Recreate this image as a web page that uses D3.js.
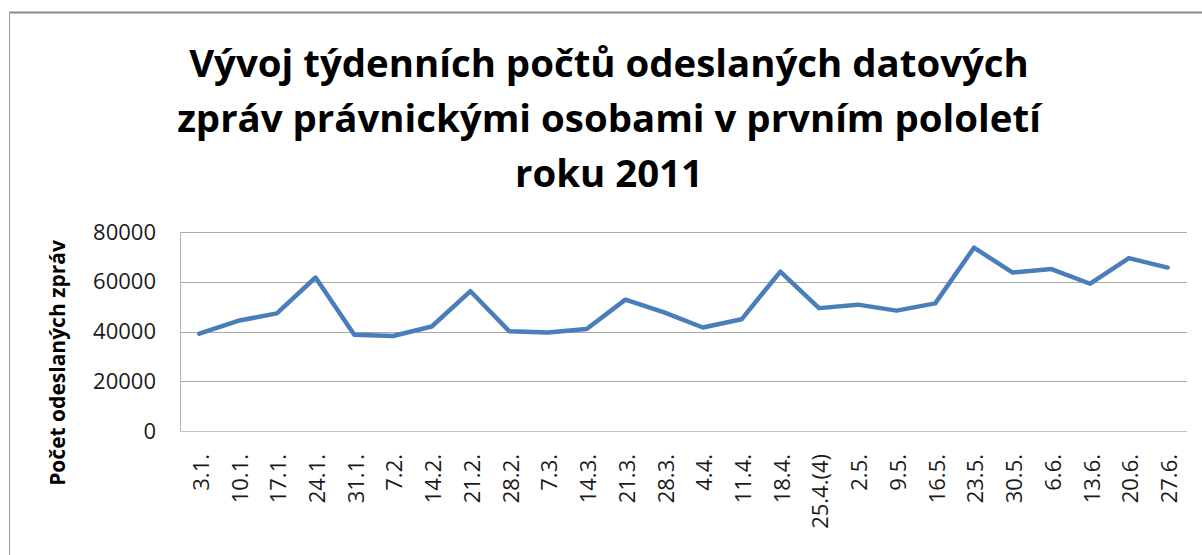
<!DOCTYPE html>
<html>
<head>
<meta charset="utf-8">
<script src="https://cdn.jsdelivr.net/npm/d3@7"></script>
<style>
  body { margin: 0; background: #fff; }
  svg { display: block; }
</style>
</head>
<body>
<div id="chart"></div>
<script>
WIDTH = 1202;
HEIGHT = 555;

// data
var weeks = ["3.1.", "10.1.", "17.1.", "24.1.", "31.1.", "7.2.", "14.2.", "21.2.", "28.2.",
  "7.3.", "14.3.", "21.3.", "28.3.", "4.4.", "11.4.", "18.4.", "25.4.(4)", "2.5.", "9.5.",
  "16.5.", "23.5.", "30.5.", "6.6.", "13.6.", "20.6.", "27.6."];
var messages = [39100, 44300, 47300, 61700, 38700, 38200, 42000, 56200, 40100,
  39600, 41000, 52800, 47700, 41600, 44900, 64100, 49400, 50800, 48400,
  51300, 73700, 63700, 65100, 59200, 69500, 65700];
var yTicks = [0, 20000, 40000, 60000, 80000];
var titleLines = ["Vývoj týdenních počtů odeslaných datových",
  "zpráv právnickými osobami v prvním pololetí", "roku 2011"];
var yTitle = "Počet odeslaných zpráv";

var FONT = "'Open Sans', sans-serif";
var margin = { top: 232, right: 15, bottom: 124, left: 180 };
var innerWidth = WIDTH - margin.left - margin.right;
var innerHeight = HEIGHT - margin.top - margin.bottom;

var svg = d3.select("#chart").append("svg")
  .attr("width", WIDTH)
  .attr("height", HEIGHT);

// outer chart border (only top + left show)
svg.append("line")
  .attr("x1", 9).attr("x2", WIDTH).attr("y1", 12.5).attr("y2", 12.5)
  .attr("stroke", "#8a8a8a").attr("stroke-width", 2);
svg.append("line")
  .attr("x1", 9.5).attr("x2", 9.5).attr("y1", 12).attr("y2", HEIGHT)
  .attr("stroke", "#9a9a9a").attr("stroke-width", 1);

// title, one text per line straight on the svg
var titleText = svg.selectAll("text.title").data(titleLines).enter().append("text")
  .attr("class", "title")
  .attr("x", 609)
  .attr("y", (d, i) => 77 + i * 55)
  .attr("text-anchor", "middle")
  .style("font-family", FONT)
  .style("font-weight", "bold")
  .style("font-size", "34px")
  .attr("fill", "#000")
  .text(d => d);
// fit the first line to ~840px like the reference
var w0 = titleText.node().getComputedTextLength();
titleText.style("font-size", (34 * 840 / w0).toFixed(1) + "px");

var xScale = d3.scaleBand().domain(weeks).range([0, innerWidth]);
var yScale = d3.scaleLinear().domain([0, 80000]).range([innerHeight, 0]);

var plot = svg.append("g")
  .attr("transform", "translate(" + margin.left + "," + margin.top + ")");

// gridlines
plot.append("g").selectAll("line").data(yTicks.filter(d => d > 0)).enter().append("line")
  .attr("x1", 0).attr("x2", innerWidth)
  .attr("y1", d => Math.round(yScale(d)) + 0.5)
  .attr("y2", d => Math.round(yScale(d)) + 0.5)
  .attr("stroke", "#a8a8a8");

// axis lines
plot.append("line")
  .attr("x1", 0).attr("x2", innerWidth)
  .attr("y1", Math.round(yScale(0)) + 0.5).attr("y2", Math.round(yScale(0)) + 0.5)
  .attr("stroke", "#c4c4c4");
plot.append("line")
  .attr("x1", 0.5).attr("x2", 0.5)
  .attr("y1", yScale(80000)).attr("y2", yScale(0))
  .attr("stroke", "#b4b4b4");

// y axis labels
var yAxis = d3.axisLeft(yScale).tickValues(yTicks).tickSize(0).tickPadding(24)
  .tickFormat(d3.format("d"));
var yg = plot.append("g").call(yAxis);
yg.attr("font-family", null).attr("font-size", null);
yg.select(".domain").remove();
yg.selectAll("text")
  .style("font-family", FONT)
  .style("font-size", "22px")
  .attr("fill", "#1a1a1a");

// x axis labels, rotated
var xAxis = d3.axisBottom(xScale).tickSize(0).tickPadding(0);
var xg = plot.append("g").attr("transform", "translate(0," + innerHeight + ")").call(xAxis);
xg.attr("font-family", null).attr("font-size", null);
xg.select(".domain").remove();
xg.selectAll("text")
  .style("font-family", FONT)
  .style("font-size", "22px")
  .attr("fill", "#1a1a1a")
  .attr("text-anchor", "end")
  .attr("transform", "rotate(-90)")
  .attr("x", -23)
  .attr("y", 1.5)
  .attr("dy", "0.36em");

// y title
svg.append("text")
  .attr("transform", "translate(65,363) rotate(-90)")
  .attr("text-anchor", "middle")
  .style("font-family", FONT)
  .style("font-weight", "bold")
  .style("font-size", "21px")
  .attr("fill", "#000")
  .text(yTitle);

// series line
var line = d3.line()
  .x((d, i) => xScale(weeks[i]) + xScale.bandwidth() / 2)
  .y(d => yScale(d));

plot.append("path")
  .datum(messages)
  .attr("d", line)
  .attr("fill", "none")
  .attr("stroke", "#4a7ebb")
  .attr("stroke-width", 4.5)
  .attr("stroke-linejoin", "round")
  .attr("stroke-linecap", "round");
</script>
</body>
</html>
